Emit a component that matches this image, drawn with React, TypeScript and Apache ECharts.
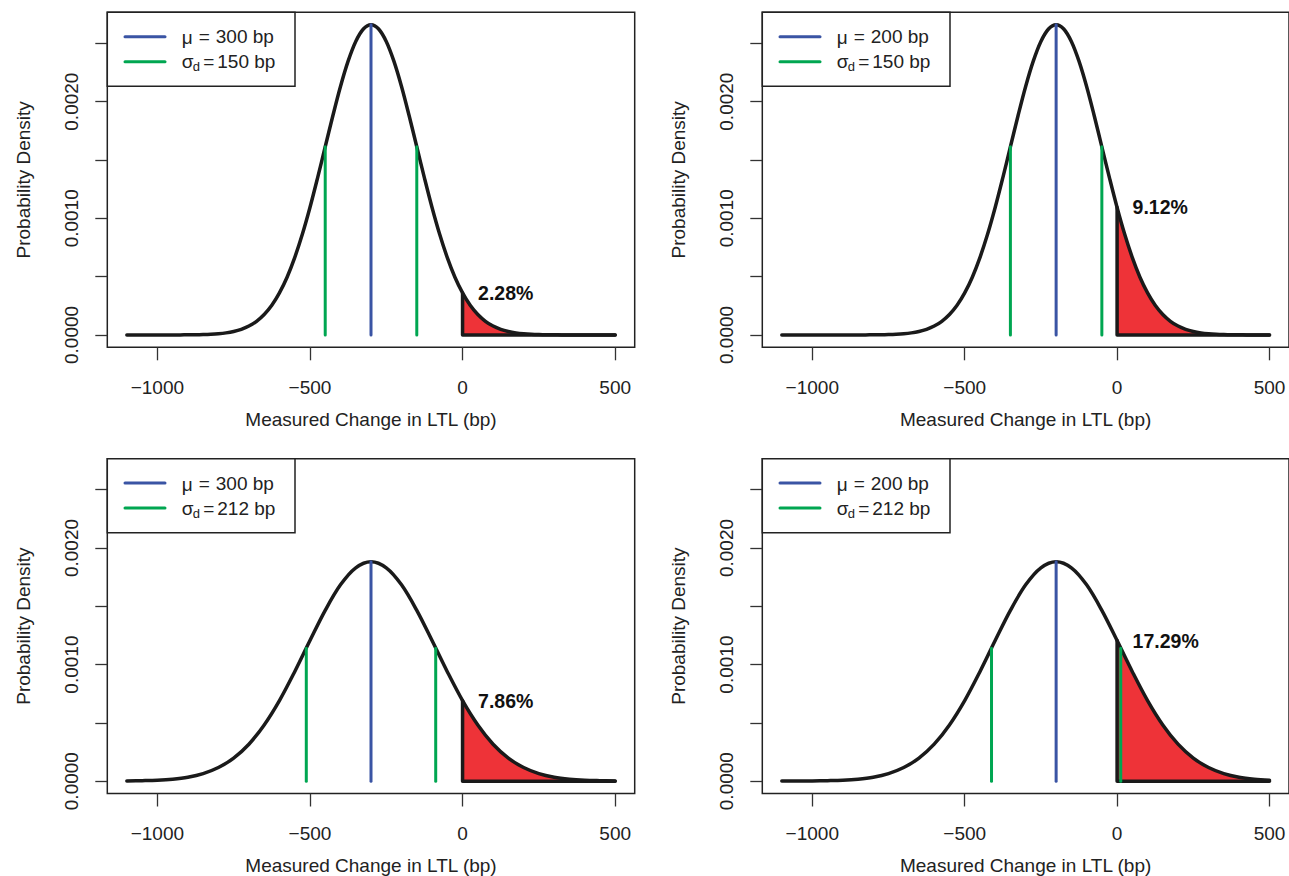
import React, { useEffect, useRef } from "react";
import * as echarts from "echarts";

// ---------- data ----------
// x positions sampled every 25 bp (narrow curves, sd = 150)
const xsFine = [
  -1100, -1075, -1050, -1025, -1000, -975, -950, -925, -900, -875, -850, -825,
  -800, -775, -750, -725, -700, -675, -650, -625, -600, -575, -550, -525, -500,
  -475, -450, -425, -400, -375, -350, -325, -300, -275, -250, -225, -200, -175,
  -150, -125, -100, -75, -50, -25, 0, 25, 50, 75, 100, 125, 150, 175, 200, 225,
  250, 275, 300, 325, 350, 375, 400, 425, 450, 475, 500,
];
// x positions sampled every 50 bp (wide curves, sd = 212)
const xsCoarse = [
  -1100, -1050, -1000, -950, -900, -850, -800, -750, -700, -650, -600, -550,
  -500, -450, -400, -350, -300, -250, -200, -150, -100, -50, 0, 50, 100, 150,
  200, 250, 300, 350, 400, 450, 500,
];

// panel A: mu = -300, sd = 150
const densA = [
  0, 0, 0, 0, 0, 0, 0, 0.0000005, 0.0000009, 0.0000017, 0.0000032, 0.0000058,
  0.0000103, 0.0000177, 0.0000296, 0.000048, 0.000076, 0.000117, 0.000175,
  0.000254, 0.00036, 0.000495, 0.000663, 0.000863, 0.001093, 0.001347, 0.001613,
  0.001879, 0.00213, 0.002347, 0.002516, 0.002623, 0.00266, 0.002623, 0.002516,
  0.002347, 0.00213, 0.001879, 0.001613, 0.001347, 0.001093, 0.000863, 0.000663,
  0.000495, 0.00036, 0.000254, 0.000175, 0.000117, 0.000076, 0.000048,
  0.0000296, 0.0000177, 0.0000103, 0.0000058, 0.0000032, 0.0000017, 0.0000009,
  0.0000005, 0, 0, 0, 0, 0, 0, 0,
];
// panel B: mu = -200, sd = 150
const densB = [
  0, 0, 0, 0, 0, 0, 0, 0, 0, 0, 0, 0.0000005, 0.0000009, 0.0000017, 0.0000032,
  0.0000058, 0.0000103, 0.0000177, 0.0000296, 0.000048, 0.000076, 0.000117,
  0.000175, 0.000254, 0.00036, 0.000495, 0.000663, 0.000863, 0.001093, 0.001347,
  0.001613, 0.001879, 0.00213, 0.002347, 0.002516, 0.002623, 0.00266, 0.002623,
  0.002516, 0.002347, 0.00213, 0.001879, 0.001613, 0.001347, 0.001093, 0.000863,
  0.000663, 0.000495, 0.00036, 0.000254, 0.000175, 0.000117, 0.000076, 0.000048,
  0.0000296, 0.0000177, 0.0000103, 0.0000058, 0.0000032, 0.0000017, 0.0000009,
  0.0000005, 0, 0, 0,
];
// panel C: mu = -300, sd = 212
const densC = [
  0.0000015, 0.000004, 0.000008, 0.000017, 0.000034, 0.000065, 0.000117,
  0.000198, 0.000317, 0.000482, 0.000691, 0.000939, 0.001206, 0.001465,
  0.001684, 0.00183, 0.001882, 0.00183, 0.001684, 0.001465, 0.001206, 0.000939,
  0.000691, 0.000482, 0.000317, 0.000198, 0.000117, 0.000065, 0.000034,
  0.000017, 0.000008, 0.000004, 0.0000015,
];
// panel D: mu = -200, sd = 212
const densD = [
  0.0000002, 0.0000006, 0.0000015, 0.000004, 0.000008, 0.000017, 0.000034,
  0.000065, 0.000117, 0.000198, 0.000317, 0.000482, 0.000691, 0.000939,
  0.001206, 0.001465, 0.001684, 0.00183, 0.001882, 0.00183, 0.001684, 0.001465,
  0.001206, 0.000939, 0.000691, 0.000482, 0.000317, 0.000198, 0.000117,
  0.000065, 0.000034, 0.000017, 0.000008,
];

const panelXs = [xsFine, xsFine, xsCoarse, xsCoarse];
const densities = [densA, densB, densC, densD];
const means = [-300, -200, -300, -200];
const sds = [150, 150, 212, 212];
const sdLineTops = [0.001613, 0.001613, 0.001141, 0.001141];
const tailLabels = ["2.28%", "9.12%", "7.86%", "17.29%"];
const tailStart = 0;
const tailEnd = 500;

const xTicks = [-1000, -500, 0, 500];
const yTicks = [0, 0.0005, 0.001, 0.0015, 0.002, 0.0025];
const yTickLabels = [0, 0.001, 0.002];
const xLimits = [-1164, 564];
const yLimits = [-0.000106, 0.002766];

// ---------- styling / layout ----------
const FONT = "'Liberation Sans', Arial, Helvetica, sans-serif";
const BLUE = "#3A54A4";
const GREEN = "#00A651";
const RED = "#EE3338";
const INK = "#1a1a1a";
const TXT = "#222";
const FS = 19;
const SMOOTH = 0.34;

const gridLeft = [107.3, 762.3, 107.3, 762.3];
const gridTop = [12.3, 12.3, 458.7, 458.7];
const gridW = 527.4;
const gridH = 335;

function buildOption() {
  const grids = gridLeft.map((l, i) => ({
    left: l,
    top: gridTop[i],
    width: gridW,
    height: gridH,
    show: true,
    borderColor: "#222",
    borderWidth: 1.5,
    backgroundColor: "transparent",
  }));

  const xAxes = gridLeft.map((_, i) => ({
    type: "value",
    gridIndex: i,
    min: xLimits[0],
    max: xLimits[1],
    axisLine: { show: false, onZero: false },
    splitLine: { show: false },
    axisTick: {
      show: true,
      length: 13,
      customValues: xTicks,
      lineStyle: { color: "#333", width: 1.3 },
    },
    axisLabel: {
      customValues: xTicks,
      margin: 30.5,
      fontSize: FS,
      color: TXT,
      fontFamily: FONT,
      formatter: (v: number) => (v < 0 ? "\u2212" + Math.abs(v) : String(v)),
    },
    name: "Measured Change in LTL (bp)",
    nameLocation: "middle",
    nameGap: 62.5,
    nameTextStyle: { fontSize: FS, color: TXT, fontFamily: FONT },
  }));

  const yAxes = gridLeft.map((_, i) => ({
    type: "value",
    gridIndex: i,
    min: yLimits[0],
    max: yLimits[1],
    axisLine: { show: false, onZero: false },
    splitLine: { show: false },
    axisTick: {
      show: true,
      length: 12,
      customValues: yTicks,
      lineStyle: { color: "#333", width: 1.3 },
    },
    axisLabel: {
      customValues: yTickLabels,
      rotate: 90,
      margin: 26,
      fontSize: FS,
      color: TXT,
      fontFamily: FONT,
      formatter: (v: number) => v.toFixed(4),
    },
    name: "Probability Density",
    nameLocation: "middle",
    nameGap: 74,
    nameRotate: 90,
    nameTextStyle: { fontSize: FS, color: TXT, fontFamily: FONT },
  }));

  const series: any[] = [];
  densities.forEach((dens, i) => {
    const xs = panelXs[i];
    const pts = xs.map((x, j) => [x, dens[j]]);
    const tail = pts.filter((p) => p[0] >= tailStart && p[0] <= tailEnd);
    const f0 = dens[xs.indexOf(tailStart)];
    const peak = Math.max(...dens);
    const mu = means[i];
    const sd = sds[i];
    const common = { xAxisIndex: i, yAxisIndex: i, symbol: "none", silent: true };

    series.push({
      ...common,
      type: "line",
      data: tail,
      smooth: SMOOTH,
      lineStyle: { width: 0, opacity: 0 },
      areaStyle: { color: RED, opacity: 1 },
      z: 1,
    });
    series.push({
      ...common,
      type: "line",
      data: [
        [tailStart, f0],
        [tailStart, 0],
        [tailEnd, 0],
      ],
      lineStyle: { color: INK, width: 3.5, cap: "round", join: "round" },
      z: 2,
    });
    series.push({
      ...common,
      type: "line",
      data: pts,
      smooth: SMOOTH,
      lineStyle: { color: INK, width: 3.5, cap: "round", join: "round" },
      z: 3,
    });
    series.push({
      ...common,
      type: "line",
      data: [
        [mu, 0],
        [mu, peak],
      ],
      lineStyle: { color: BLUE, width: 3, cap: "round" },
      z: 4,
    });
    series.push({
      ...common,
      type: "line",
      data: [
        [mu - sd, 0],
        [mu - sd, sdLineTops[i]],
      ],
      lineStyle: { color: GREEN, width: 3, cap: "round" },
      z: 4,
    });
    series.push({
      ...common,
      type: "line",
      data: [
        [mu + sd, 0],
        [mu + sd, sdLineTops[i]],
      ],
      lineStyle: { color: GREEN, width: 3, cap: "round" },
      z: 4,
    });
    series.push({
      xAxisIndex: i,
      yAxisIndex: i,
      type: "scatter",
      silent: true,
      symbolSize: 1,
      itemStyle: { color: "rgba(0,0,0,0)" },
      data: [[tailStart, f0]],
      label: {
        show: true,
        position: "right",
        distance: 15,
        formatter: tailLabels[i],
        fontSize: 19.5,
        fontWeight: "bold",
        color: "#111",
        opacity: 1,
        fontFamily: FONT,
      },
      z: 5,
    });
  });

  // legends (one per panel, drawn in the top-left corner of each box)
  const graphics: any[] = [];
  gridLeft.forEach((L, i) => {
    const T = gridTop[i];
    const y1 = T + 24.4;
    const y2 = T + 49.4;
    const txt = (text: string, x: number, y: number, size = FS) => ({
      type: "text",
      z: 20,
      style: {
        text,
        x,
        y,
        fontSize: size,
        fontFamily: FONT,
        fill: TXT,
        align: "left",
        verticalAlign: "middle",
      },
    });
    graphics.push({
      type: "rect",
      z: 19,
      shape: { x: L, y: T, width: 187.7, height: 74 },
      style: { fill: "#fff", stroke: "#222", lineWidth: 1.5 },
    });
    graphics.push({
      type: "line",
      z: 20,
      shape: { x1: L + 17.7, y1: y1, x2: L + 57.7, y2: y1 },
      style: { stroke: BLUE, lineWidth: 3, lineCap: "round" },
    });
    graphics.push({
      type: "line",
      z: 20,
      shape: { x1: L + 17.7, y1: y2, x2: L + 57.7, y2: y2 },
      style: { stroke: GREEN, lineWidth: 3, lineCap: "round" },
    });
    graphics.push(txt("\u03BC", L + 74.5, y1 + 1));
    graphics.push(txt("=", L + 91.5, y1));
    graphics.push(txt(Math.abs(means[i]) + " bp", L + 108.5, y1));
    graphics.push(txt("\u03C3", L + 74.5, y2));
    graphics.push(txt("d", L + 85.5, y2 + 5, 13));
    graphics.push(txt("=", L + 96, y2));
    graphics.push(txt(sds[i] + " bp", L + 110, y2));
  });

  return {
    animation: false,
    backgroundColor: "#ffffff",
    grid: grids,
    xAxis: xAxes,
    yAxis: yAxes,
    series,
    graphic: graphics,
  };
}

export default function App() {
  const ref = useRef<HTMLDivElement>(null);
  useEffect(() => {
    document.body.style.margin = "0";
    document.body.style.overflow = "hidden";
    if (!ref.current) return;
    const chart = echarts.init(ref.current, undefined, { renderer: "svg" });
    chart.setOption(buildOption() as any);
    return () => chart.dispose();
  }, []);
  return <div ref={ref} style={{ width: 1289, height: 876, background: "#fff" }} />;
}
